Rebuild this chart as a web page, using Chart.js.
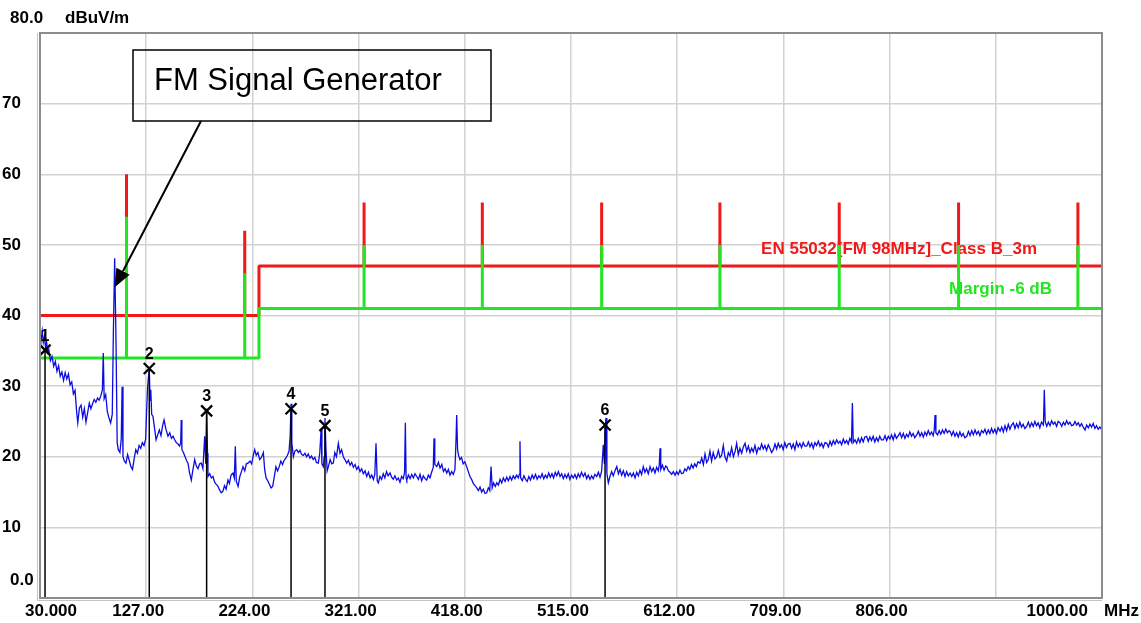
<!DOCTYPE html>
<html>
<head>
<meta charset="utf-8">
<title>Radiated emission scan - EN 55032</title>
<script src="https://cdn.jsdelivr.net/npm/chart.js@4.4.1/dist/chart.umd.min.js"></script>
<style>
  body { margin: 0; background: #fff; }
  canvas { display: block; }
</style>
</head>
<body>
<canvas id="myChart" width="1141" height="623"></canvas>
<script>
/**
 * DATA
 */
const xTicks = [30, 127, 224, 321, 418, 515, 612, 709, 806, 903, 1000]
const xTickLabels = ['30.000', '127.00', '224.00', '321.00', '418.00', '515.00', '612.00', '709.00', '806.00', '', '1000.00']
const yTicks = [0, 10, 20, 30, 40, 50, 60, 70, 80]
const yTickLabels = ['0.0', '10', '20', '30', '40', '50', '60', '70', '80.0']
const xUnit = 'MHz'
const yUnit = 'dBuV/m'

// limit line (EN 55032, FM 98 MHz, class B, 3 m) and the -6 dB margin
const limitName = 'EN 55032[FM 98MHz]_Class B_3m'
const marginName = 'Margin -6 dB'
const limitFreq = [30, 230, 230, 1000]
const limitLevel = [40, 40, 47, 47]
const marginLevel = [34, 34, 41, 41]
// narrow limit spikes at the FM harmonics
const spikeFreq = [109, 217, 326, 434, 543, 651, 760, 869, 978]
const spikeLimit = [60, 52, 56, 56, 56, 56, 56, 56, 56]
const spikeMargin = [54, 46, 50, 50, 50, 50, 50, 50, 50]

// measurement markers
const markerFreq = [34.6, 129.8, 182.2, 259.3, 290.3, 546.1]
const markerLevel = [35.1, 32.5, 26.5, 26.8, 24.4, 24.5]

// annotation
const noteText = 'FM Signal Generator'
const noteFreq = 98.2
const noteLevel = 44

// measured trace [MHz, dBuV/m]
const trace = [
  [30,35.0],[31,36.5],[32,37.8],[33,36.2],[34,37.0],[35,35.5],[36,36.3],[37,34.8],[38,35.2],[39.5,33.6],
  [41,34.2],[42.5,32.8],[44,33.5],[45.5,32.1],[47,32.9],[48.5,31.4],[50,32.0],[51.5,30.8],[53,31.9],[54.5,31.0],
  [56,31.7],[57.5,30.2],[59,30.6],[60.5,28.9],[62,29.4],[63.5,26.3],[64.5,24.8],[66,26.9],[67.5,27.3],[69,25.6],
  [70.5,26.8],[72,24.9],[73.5,26.2],[75,27.6],[76.5,26.8],[78,27.5],[79.5,28.1],[81,27.7],[82.5,28.3],[84,28.0],
  [85.5,28.6],[87,29.5],[87.8,34.7],[88.6,28.2],[90,28.8],[91.5,26.4],[93,25.5],[94.5,24.8],[96,26.0],[97,37.5],
  [98.2,48.1],[99.4,36.6],[100.5,22.0],[101.5,21.0],[103,20.6],[104.2,22.5],[105,29.9],[105.8,20.0],[107,19.4],[108.5,19.1],
  [110,20.3],[111.5,19.5],[113,18.6],[114.5,18.2],[116,19.7],[117.5,21.0],[119,20.5],[120.5,21.6],[122,21.2],[123.5,22.0],
  [125,21.6],[126.5,22.5],[127.5,27.0],[128.3,29.9],[129.2,31.5],[129.8,32.5],[130.5,28.0],[131.2,29.5],[132,26.0],[133.2,25.7],
  [134.5,24.2],[136,22.4],[137.5,23.1],[139,23.8],[140.5,23.0],[142,24.4],[143.3,25.2],[145,23.9],[146.9,22.9],[148.5,23.4],
  [150,22.6],[151.5,22.9],[153,22.4],[154.5,22.0],[156,21.8],[157.5,21.5],[158.5,22.0],[159,25.2],[159.6,21.0],[161,20.6],
  [162.5,20.0],[164,19.4],[165.2,19.1],[166.5,17.8],[168.2,16.7],[169.5,18.0],[171.3,19.6],[172.8,18.7],[174.3,18.3],[175.8,19.0],
  [177.3,19.1],[178.8,18.3],[180.4,22.9],[181.4,19.0],[182.2,26.8],[183,20.5],[183.4,17.2],[185,17.6],[186.5,17.0],[188,17.2],
  [189.5,16.4],[191,16.1],[192.6,15.8],[194,15.3],[195.5,14.9],[197,15.1],[198.5,15.9],[200,15.4],[201.7,16.7],[203,16.2],
  [204.5,17.4],[206.3,17.7],[207.5,17.0],[208.4,21.5],[209.3,16.5],[210.9,15.8],[212.5,17.2],[214,17.9],[215.4,18.6],[217,18.0],
  [218.5,19.0],[220,19.1],[221.8,19.4],[223.3,19.0],[224.8,20.2],[226.1,21.0],[227.5,20.2],[229,20.6],[230.7,19.6],[232.2,19.9],
  [234,20.6],[235.2,18.2],[236.5,17.0],[238,16.6],[239.5,16.1],[241,15.6],[242.5,15.8],[244,17.2],[245.5,18.6],[247,18.0],
  [248.5,18.6],[250,19.4],[251.5,18.9],[253,19.5],[254.5,19.8],[256,20.2],[257.5,20.8],[258.5,23.0],[259.3,27.5],[260,22.0],
  [261.4,20.0],[262.8,20.8],[264.5,21.0],[266,20.6],[267.5,20.9],[269,20.3],[270.5,20.2],[272,20.5],[273.5,20.0],[275,20.4],
  [276.6,19.8],[278,20.1],[279.5,19.6],[281,19.9],[282.5,19.2],[284.2,19.1],[285.5,20.5],[286.7,23.8],[287.5,19.0],[288.8,18.6],
  [289.6,20.0],[290.3,25.5],[291.2,21.0],[292.3,18.0],[293.4,18.6],[295,19.6],[296.5,19.0],[297.9,19.1],[299.3,20.6],[300.8,20.0],
  [302.5,21.9],[304,20.5],[305.5,21.0],[307,20.0],[308.5,19.6],[310.1,19.1],[311.7,19.5],[313.2,18.8],[314.7,19.2],[316.2,18.5],
  [317.8,18.9],[319.3,18.2],[320.8,18.6],[322.3,17.9],[323.8,18.3],[325.3,17.6],[326.9,18.0],[328.4,17.2],[330,17.8],[331.5,17.0],
  [333,17.4],[334.5,16.8],[335.8,17.5],[336.9,21.9],[338,16.6],[339,16.3],[340.5,17.2],[342,16.8],[343.5,17.6],[345,17.0],
  [346.5,17.9],[348,17.3],[349.7,17.7],[351.2,17.1],[352.7,16.8],[354.2,17.3],[355.8,16.7],[357.3,17.0],[358.8,16.4],[360.3,17.2],
  [361.8,16.9],[363,17.8],[363.7,24.8],[364.4,17.0],[365,16.7],[366.5,17.4],[368,16.9],[369.5,17.5],[371,17.0],[372.5,17.6],
  [374.1,17.2],[375.6,16.8],[377.1,17.5],[378.6,16.6],[380.1,17.3],[381.7,16.9],[383.2,16.7],[384.7,17.4],[386.2,17.0],[387.7,17.8],
  [389.2,18.5],[389.9,22.6],[390.6,18.9],[392.4,18.6],[393.9,19.2],[395.4,18.4],[397,18.9],[398.5,17.9],[400,18.3],[401.5,17.7],
  [403,18.2],[404.5,17.4],[406,17.9],[407.5,17.5],[409,18.2],[409.9,22.0],[410.6,25.9],[411.4,21.0],[412.3,20.2],[413.6,19.6],
  [415,19.9],[416.5,19.0],[418,19.3],[419.7,18.6],[421.2,17.9],[422.7,17.2],[424.2,16.8],[425.8,16.2],[427.3,15.9],[428.9,15.6],
  [430.4,15.2],[431.9,15.7],[433.4,15.0],[434.9,15.4],[436.5,14.8],[438,14.9],[439.5,15.6],[440.8,15.2],[442,18.6],[443,15.6],
  [444.3,16.3],[445.8,15.8],[447.2,16.3],[448.7,16.0],[450.2,16.8],[451.7,16.3],[453.2,17.0],[454.8,16.5],[456.3,17.1],[457.8,16.6],
  [459.3,17.2],[460.8,16.7],[462.3,17.3],[463.8,16.9],[465.3,17.4],[466.9,17.0],[467.8,17.5],[468.4,22.2],[469,17.0],[470.5,16.6],
  [472,17.3],[473.5,16.8],[475,16.5],[476.5,17.2],[478,16.7],[479.5,17.4],[481,16.9],[482.6,17.5],[484.1,16.8],[485.6,17.3],
  [487.1,17.0],[488.6,17.6],[490.1,16.9],[491.6,17.4],[493.1,17.0],[494.6,17.7],[496.1,17.1],[497.6,17.6],[499.1,17.0],[500.6,17.8],
  [502,17.3],[503.5,17.9],[505,17.2],[506.5,17.6],[508,16.9],[509.5,17.5],[511,17.0],[512.5,17.6],[514,16.8],[515.5,17.4],
  [517.1,17.0],[518.6,17.5],[520.1,16.9],[521.6,17.6],[523.1,17.1],[524.6,17.8],[526.3,17.2],[527.8,17.7],[529.3,16.9],[530.8,17.4],
  [532.3,16.8],[533.8,17.3],[535.3,16.9],[536.8,17.5],[538.5,17.2],[540,17.8],[541.5,17.1],[543,18.0],[544.5,21.7],[545.5,19.0],
  [546.3,24.5],[547,25.5],[547.8,17.6],[549.1,16.3],[550.6,17.2],[552.1,17.9],[553.6,17.3],[555.1,18.0],[556.8,18.6],[558.3,17.6],
  [559.8,18.2],[561.3,17.4],[562.8,18.0],[564.3,17.2],[565.8,17.9],[567.3,17.3],[569,17.7],[570.5,17.2],[572,17.7],[573.5,17.0],
  [575,17.8],[576.5,17.3],[578,18.1],[579.5,17.5],[581,18.6],[582.5,17.8],[584,18.3],[585.6,17.6],[587.2,18.6],[588.7,17.9],
  [590.2,18.4],[591.7,17.7],[593.2,18.5],[594.7,18.0],[595.6,18.8],[596.3,21.2],[597,18.2],[598.5,18.8],[600,18.1],[601.5,18.7],
  [602.4,18.6],[604,18.0],[605.5,17.8],[607,17.5],[608.5,17.9],[610,17.4],[611.5,17.9],[613,17.5],[614.5,18.1],[616,17.6],
  [617.6,17.7],[619,18.3],[620.5,18.0],[622,18.6],[623.5,18.2],[625,18.9],[626.5,18.4],[628,19.0],[629.5,18.6],[631,19.3],
  [632.9,19.1],[634.4,19.8],[635.9,18.9],[637.4,20.4],[638.9,19.2],[640.4,19.6],[641.9,20.8],[643.4,19.4],[644.9,20.6],[646.5,19.7],
  [648.1,20.0],[649.6,20.9],[651.1,19.9],[652.6,20.2],[654.1,21.6],[655.6,20.0],[657.2,19.4],[658.7,20.6],[660.2,20.1],[661.7,21.3],
  [663.3,20.0],[664.8,20.7],[666.3,21.9],[667.8,20.3],[669.3,21.2],[670.9,20.5],[672.4,21.4],[674,21.9],[675.5,20.8],[677,21.5],
  [678.5,20.6],[680,21.2],[681.5,20.7],[683,21.6],[684.6,20.5],[686.1,21.3],[687.6,21.0],[689.1,21.8],[690.6,21.1],[692.1,21.6],
  [693.6,20.9],[695.2,21.7],[696.7,21.2],[698.2,20.6],[699.8,21.0],[701.3,21.8],[702.8,21.1],[704.3,21.9],[705.8,21.3],[707.3,21.7],
  [708.8,21.0],[710.3,22.0],[711.8,21.3],[713.4,21.8],[715,21.9],[716.5,21.2],[718,21.8],[719.5,21.0],[721,22.1],[722.5,21.4],
  [724,21.9],[725.6,21.3],[727.1,22.0],[728.6,21.5],[730.3,21.5],[731.8,22.1],[733.3,21.4],[734.8,21.9],[736.3,21.2],[737.8,22.0],
  [739.3,21.6],[740.9,22.2],[742.4,21.5],[743.9,21.9],[745.4,21.3],[747,22.0],[748.6,21.9],[750.1,21.4],[751.6,22.2],[753.1,21.6],
  [754.6,22.3],[756.1,21.8],[757.7,22.4],[759.2,21.9],[760.7,22.2],[762.2,21.7],[763.7,22.5],[765.2,21.9],[766.7,22.3],[768.2,21.8],
  [769.7,22.6],[771.2,22.1],[772,27.6],[772.8,22.0],[774.4,22.4],[775.9,21.9],[777.4,22.6],[778.9,22.0],[780.4,22.7],[781.9,22.1],
  [783.4,22.8],[785,22.9],[786.5,22.2],[788,22.8],[789.5,22.3],[791,22.9],[792.5,22.1],[794,22.7],[795.5,22.2],[797,22.9],
  [798.5,22.4],[800.3,22.4],[801.8,23.0],[803.3,22.3],[804.8,22.9],[806.3,22.5],[807.8,23.1],[809.3,22.4],[810.8,23.2],[812.3,22.6],
  [813.9,23.0],[815.5,23.4],[817,22.7],[818.5,23.3],[820,22.6],[821.5,23.2],[823,22.8],[824.5,23.5],[826,22.9],[827.5,23.3],
  [829,22.7],[830.8,23.1],[832.3,23.6],[833.8,22.9],[835.3,23.4],[836.8,22.8],[838.3,23.5],[839.8,23.0],[841.3,23.7],[842.8,23.1],
  [844.3,23.5],[845.8,23.0],[846.8,23.8],[847.5,25.9],[848.3,23.4],[849.8,23.1],[851.3,23.7],[852.8,23.2],[854.3,23.8],[855.8,23.3],
  [857.3,23.9],[858.8,23.4],[860.3,23.7],[861.2,23.6],[862.7,23.0],[864.2,23.6],[865.7,22.9],[867.2,23.4],[868.7,22.8],[870.2,23.5],
  [871.7,22.9],[873.2,23.3],[874.7,22.7],[876.5,22.9],[878,23.6],[879.5,23.0],[881,23.7],[882.5,23.1],[884,23.8],[885.5,23.2],
  [887,23.6],[888.5,23.0],[890,23.7],[891.6,23.4],[893.1,23.9],[894.6,23.2],[896.1,23.8],[897.6,23.3],[899.1,24.0],[900.6,23.4],
  [902.1,23.9],[903.6,23.3],[905.1,24.1],[906.9,23.6],[908.4,24.2],[909.9,23.5],[911.4,24.4],[912.9,23.7],[914.4,24.6],[915.9,23.9],
  [917.4,24.5],[919,24.8],[920.5,24.0],[922,24.7],[923.5,24.1],[925,24.9],[926.5,24.2],[928,24.6],[929.5,24.0],[931.2,24.3],
  [932.7,24.9],[934.2,24.2],[935.7,24.8],[937.2,24.3],[938.7,25.0],[940.2,24.4],[941.7,24.8],[943.2,24.1],[944.7,24.9],[946.5,24.5],
  [947.3,29.5],[948.1,25.0],[949.5,24.3],[951,24.9],[952.5,24.4],[954,25.1],[955.5,24.6],[957,24.9],[958.5,24.3],[960,25.0],
  [961.7,24.8],[963.2,24.3],[964.7,24.9],[966.2,24.5],[967.7,25.1],[969.2,24.6],[970.7,24.9],[972.2,24.4],[973.8,24.5],[975.3,25.0],
  [976.8,24.5],[978.3,24.8],[979.8,24.3],[981.3,24.7],[982.8,24.2],[984.5,23.8],[986,24.5],[987.5,24.1],[989,24.6],[990.5,24.2],
  [992,24.7],[993.5,24.0],[995,24.4],[996.5,23.9],[998,24.2],[1000,23.8]
]

const AXIS_FONT = 'bold 17px "Liberation Sans", Arial, sans-serif'
const RED = '#f01818'
const GREEN = '#22e622'

// the limit line goes up and down at every spike
let levelAt = (levels, f) => {
    let v = levels[0]
    limitFreq.forEach((lf, i) => { if (lf <= f) v = levels[i] })
    return v
}
let limitPath = (levels, tops) => {
    let pts = limitFreq.map((f, i) => ({x: f, y: levels[i]}))
    spikeFreq.forEach((f, i) => {
        let base = levelAt(levels, f)
        let idx = pts.findIndex(p => p.x > f)
        pts.splice(idx, 0, {x: f, y: base}, {x: f, y: tops[i]}, {x: f, y: base})
    })
    return pts
}

/**
 * PLUGINS
 */
const labelsUnder = {
    id: 'labelsUnder',
    beforeDatasetsDraw(chart) {
        const {ctx, chartArea, scales: {y}} = chart
        ctx.save()
        ctx.font = AXIS_FONT
        ctx.textBaseline = 'middle'
        ctx.textAlign = 'right'
        ctx.fillStyle = RED
        ctx.fillText(limitName, chartArea.right - 65, y.getPixelForValue(47) - 17)
        ctx.fillStyle = GREEN
        ctx.fillText(marginName, chartArea.right - 50, y.getPixelForValue(41) - 19)
        ctx.restore()
    }
}

const overlay = {
    id: 'overlay',
    afterDatasetsDraw(chart) {
        const {ctx, chartArea, scales: {x, y}} = chart
        ctx.save()

        // markers
        markerFreq.forEach((f, i) => {
            let px = x.getPixelForValue(f)
            let py = y.getPixelForValue(markerLevel[i])
            ctx.strokeStyle = '#000'
            ctx.lineWidth = 1.5
            ctx.beginPath()
            ctx.moveTo(px, py)
            ctx.lineTo(px, y.getPixelForValue(0))
            ctx.stroke()
            ctx.lineWidth = 2.3
            ctx.beginPath()
            ctx.moveTo(px - 5.5, py - 5.5); ctx.lineTo(px + 5.5, py + 5.5)
            ctx.moveTo(px + 5.5, py - 5.5); ctx.lineTo(px - 5.5, py + 5.5)
            ctx.stroke()
            ctx.fillStyle = '#000'
            ctx.font = 'bold 16px "Liberation Sans", Arial, sans-serif'
            ctx.textAlign = 'center'
            ctx.textBaseline = 'middle'
            ctx.fillText(String(i + 1), px, py - 14)
        })

        // frame
        ctx.strokeStyle = '#8c8c8c'
        ctx.lineWidth = 2
        ctx.strokeRect(chartArea.left, chartArea.top, chartArea.right - chartArea.left, chartArea.bottom - chartArea.top)
        ctx.strokeStyle = '#c4c4c4'
        ctx.lineWidth = 1
        ctx.beginPath()
        ctx.moveTo(chartArea.left - 2.5, chartArea.top)
        ctx.lineTo(chartArea.left - 2.5, chartArea.bottom + 2.5)
        ctx.lineTo(chartArea.right, chartArea.bottom + 2.5)
        ctx.stroke()

        // axis labels
        ctx.fillStyle = '#000'
        ctx.font = AXIS_FONT
        ctx.textBaseline = 'middle'
        yTicks.forEach((v, i) => {
            let py = y.getPixelForValue(v)
            ctx.textAlign = 'left'
            if (v === 0) ctx.fillText(yTickLabels[i], 10, py - 18)
            else if (v === 80) ctx.fillText(yTickLabels[i], 10, py - 15)
            else ctx.fillText(yTickLabels[i], 2, py)
        })
        ctx.fillText(yUnit, 65, y.getPixelForValue(80) - 15)

        let ly = chartArea.bottom + 13
        xTicks.forEach((v, i) => {
            let px = x.getPixelForValue(v)
            if (i === 0) { ctx.textAlign = 'left'; ctx.fillText(xTickLabels[i], px - 15, ly) }
            else if (i === xTicks.length - 1) { ctx.textAlign = 'right'; ctx.fillText(xTickLabels[i], px - 14, ly) }
            else { ctx.textAlign = 'center'; ctx.fillText(xTickLabels[i], px - 8, ly) }
        })
        ctx.textAlign = 'left'
        ctx.fillText(xUnit, chartArea.right + 2, ly)

        // annotation box + arrow
        let bx = chartArea.left + 93, by = chartArea.top + 17, bw = 358, bh = 71
        ctx.strokeStyle = '#000'
        ctx.lineWidth = 1.5
        ctx.strokeRect(bx, by, bw, bh)
        ctx.font = '31px "Liberation Sans", Arial, sans-serif'
        ctx.textAlign = 'left'
        ctx.textBaseline = 'alphabetic'
        ctx.fillText(noteText, bx + 21, by + 40)

        let tx = x.getPixelForValue(noteFreq), ty = y.getPixelForValue(noteLevel)
        let sx = bx + 68, sy = by + bh
        let ang = Math.atan2(ty - sy, tx - sx)
        let hl = 18, hw = 7.5
        let bxh = tx - hl * Math.cos(ang), byh = ty - hl * Math.sin(ang)
        ctx.lineWidth = 2
        ctx.beginPath()
        ctx.moveTo(sx, sy)
        ctx.lineTo(bxh, byh)
        ctx.stroke()
        ctx.beginPath()
        ctx.moveTo(tx, ty)
        ctx.lineTo(bxh + hw * Math.sin(ang), byh - hw * Math.cos(ang))
        ctx.lineTo(bxh - hw * Math.sin(ang), byh + hw * Math.cos(ang))
        ctx.closePath()
        ctx.fill()

        ctx.restore()
    }
}

/**
 * CHART
 */
const data = {
    datasets: [{
        label: 'Trace',
        data: trace.map(([f, v]) => ({x: f, y: v})),
        borderColor: '#0c0ce0',
        borderWidth: 1.3,
        pointRadius: 0,
        tension: 0,
        order: 0
    }, {
        label: marginName,
        data: limitPath(marginLevel, spikeMargin),
        borderColor: GREEN,
        borderWidth: 3,
        borderJoinStyle: 'bevel',
        pointRadius: 0,
        order: 1
    }, {
        label: limitName,
        data: limitPath(limitLevel, spikeLimit),
        borderColor: RED,
        borderWidth: 3,
        borderJoinStyle: 'bevel',
        pointRadius: 0,
        order: 2
    }]
}

const config = {
    type: 'line',
    data: data,
    options: {
        responsive: false,
        animation: false,
        layout: { padding: { left: 40, top: 33, right: 39, bottom: 25 } },
        plugins: { legend: { display: false }, tooltip: { enabled: false } },
        scales: {
            x: {
                type: 'linear', min: 30, max: 1000,
                afterBuildTicks: s => { s.ticks = xTicks.map(v => ({value: v})) },
                ticks: { display: false },
                grid: { color: '#d2d2d2', lineWidth: 1.5, drawTicks: false },
                border: { display: false }
            },
            y: {
                type: 'linear', min: 0, max: 80,
                afterBuildTicks: s => { s.ticks = yTicks.map(v => ({value: v})) },
                ticks: { display: false },
                grid: { color: '#d2d2d2', lineWidth: 1.5, drawTicks: false },
                border: { display: false }
            }
        }
    },
    plugins: [labelsUnder, overlay]
}

const myChart = new Chart(document.getElementById('myChart'), config)
</script>
</body>
</html>
